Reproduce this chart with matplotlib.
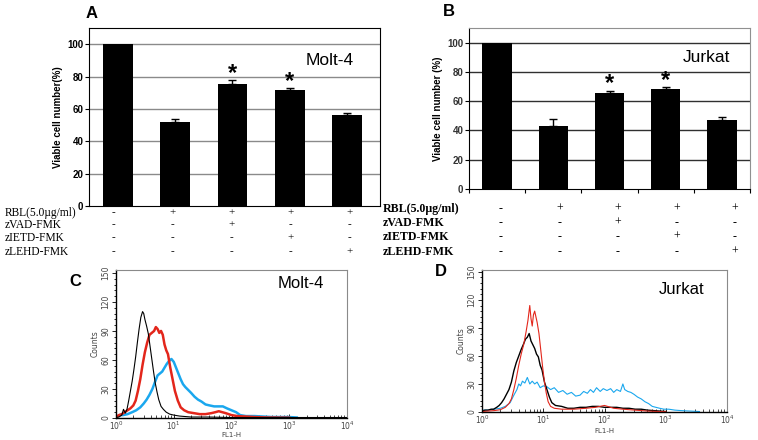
import numpy as np
import matplotlib.pyplot as plt
import matplotlib.transforms as mtransforms
from matplotlib.ticker import MultipleLocator, LogLocator, NullFormatter

# bar data (viable cell number, %)
groups = ['1', '2', '3', '4', '5']
molt_vals = [100, 52, 75.5, 71.5, 56.5]
molt_err = [0, 1.5, 2.5, 1.5, 1.0]
jurkat_vals = [100, 43, 65.5, 68, 47]
jurkat_err = [0, 5, 1.5, 1.5, 2]
star_idx = [2, 3]

# treatment table
row_names = ['RBL(5.0\u00b5g/ml)', 'zVAD-FMK', 'zIETD-FMK', 'zLEHD-FMK']
table_marks = [['-', '+', '+', '+', '+'],
               ['-', '-', '+', '-', '-'],
               ['-', '-', '-', '+', '-'],
               ['-', '-', '-', '-', '+']]

# flow histograms: log10(FL1-H) and counts
c_black_x = [0.00, 0.05, 0.10, 0.13, 0.16, 0.19, 0.22, 0.25, 0.28, 0.31, 0.34, 0.37, 0.40, 0.43, 0.46,
             0.48, 0.50, 0.53, 0.56, 0.59, 0.62, 0.65, 0.68, 0.71, 0.74, 0.78, 0.82, 0.87, 0.93, 1.00,
             1.10, 1.30, 1.60, 2.00, 2.60, 3.20, 4.00]
c_black_y = [0.5, 1, 3, 9, 5, 9, 18, 28, 38, 50, 63, 78, 92, 104, 110,
             108, 102, 95, 87, 74, 61, 48, 36, 27, 19, 12, 9, 6, 4, 3,
             2, 1, 1, 0.5, 0.5, 0.5, 0.5]
c_red_x = [0.00, 0.05, 0.10, 0.15, 0.20, 0.25, 0.30, 0.34, 0.38, 0.42, 0.46, 0.50, 0.54, 0.58, 0.62,
           0.66, 0.69, 0.72, 0.75, 0.78, 0.81, 0.84, 0.87, 0.90, 0.94, 0.98, 1.02, 1.07, 1.12, 1.18,
           1.25, 1.35, 1.45, 1.55, 1.65, 1.72, 1.78, 1.84, 1.90, 2.00, 2.10, 2.25, 2.40, 2.60, 3.00]
c_red_y = [1, 3, 4, 6, 8, 10, 13, 18, 28, 40, 55, 68, 78, 86, 88,
           90, 94, 92, 88, 90, 86, 76, 70, 66, 52, 40, 28, 18, 11, 8,
           6, 5, 4, 4, 5, 6, 7, 6, 5, 3, 2, 1.5, 1, 0.5, 0.3]
c_blue_x = [0.00, 0.06, 0.12, 0.20, 0.28, 0.35, 0.42, 0.48, 0.53, 0.58, 0.63, 0.68, 0.72, 0.76, 0.80,
            0.84, 0.88, 0.92, 0.96, 1.00, 1.04, 1.08, 1.12, 1.16, 1.20, 1.25, 1.30, 1.36, 1.42, 1.48,
            1.55, 1.62, 1.70, 1.78, 1.85, 1.92, 2.00, 2.08, 2.15, 2.25, 2.40, 2.55, 2.70, 2.85, 3.00, 3.13]
c_blue_y = [1, 3, 3, 4, 6, 8, 11, 15, 19, 24, 30, 38, 44, 46, 48,
            52, 56, 59, 61, 58, 52, 46, 40, 35, 32, 29, 26, 22, 19, 17,
            14, 13, 12, 12, 12, 10, 8, 6, 3, 2, 2, 1.5, 1, 1, 1, 0.5]

d_black_x = [0.00, 0.05, 0.10, 0.15, 0.19, 0.24, 0.28, 0.32, 0.36, 0.40, 0.44, 0.48, 0.52, 0.56, 0.60,
             0.64, 0.68, 0.71, 0.74, 0.77, 0.80, 0.83, 0.86, 0.89, 0.92, 0.95, 0.98, 1.02, 1.06, 1.10,
             1.14, 1.20, 1.30, 1.40, 1.50, 1.60, 1.70, 1.80, 1.90, 2.00, 2.10, 2.20, 2.30, 2.40, 2.50,
             2.60, 2.70, 2.80, 2.90, 3.00]
d_black_y = [1, 2, 2, 3, 3, 5, 7, 10, 14, 19, 24, 32, 44, 53, 60,
             67, 73, 78, 80, 84, 76, 72, 68, 62, 59, 50, 45, 32, 24, 16,
             10, 7, 6, 4, 4, 5, 5, 6, 6, 5, 5, 5, 4, 4, 3,
             3, 2, 1.5, 1, 0.5]
d_red_x = [0.00, 0.10, 0.20, 0.30, 0.38, 0.44, 0.48, 0.52, 0.56, 0.60, 0.64, 0.68, 0.72, 0.75, 0.78,
           0.80, 0.82, 0.84, 0.86, 0.88, 0.90, 0.93, 0.96, 0.99, 1.02, 1.05, 1.08, 1.12, 1.18, 1.30,
           1.50, 1.70, 1.85, 2.00, 2.05, 2.15, 2.30, 2.50, 2.70, 2.90, 3.00]
d_red_y = [0.5, 1, 1.5, 2.5, 5, 9, 14, 24, 36, 50, 62, 72, 86, 98, 114,
           100, 92, 104, 108, 102, 96, 84, 66, 48, 32, 20, 11, 6, 4, 3,
           3, 4, 5, 7, 6, 4, 3, 2, 1, 0.5, 0.3]
d_blue_x = [0.000, 0.004, 0.10, 0.20, 0.30, 0.38, 0.46, 0.52, 0.57, 0.60, 0.63, 0.66, 0.70, 0.74, 0.78,
            0.82, 0.86, 0.90, 0.95, 1.00, 1.06, 1.12, 1.18, 1.25, 1.32, 1.39, 1.46, 1.53, 1.60, 1.66,
            1.72, 1.77, 1.82, 1.87, 1.93, 1.98, 2.04, 2.10, 2.15, 2.20, 2.26, 2.30, 2.33, 2.38, 2.43,
            2.48, 2.54, 2.60, 2.66, 2.72, 2.78, 2.84, 2.90, 2.97, 3.05, 3.15, 3.25, 3.40, 3.55]
d_blue_y = [48, 2, 2, 3, 4, 6, 10, 18, 24, 30, 28, 33, 31, 37, 30,
            33, 30, 32, 26, 28, 27, 24, 26, 21, 23, 19, 21, 17, 18, 22,
            20, 24, 21, 26, 22, 25, 23, 25, 21, 24, 22, 30, 24, 22, 21,
            19, 16, 14, 11, 9, 6, 5, 4, 3, 3, 2, 1.5, 1, 0.5]

SANS = 'Liberation Sans'
SERIF = 'Liberation Serif'
BLUE = '#1aa7ee'
RED = '#e3261b'

fig = plt.figure(figsize=(7.58, 4.40), dpi=100)


def bar_panel(rect, vals, err, grid_color, box_color, cell, letter, letter_xy, label, label_xy, xlim):
    ax = fig.add_axes(rect)
    x = np.arange(len(vals))
    ax.bar(x, vals, width=0.52, color='black', zorder=3)
    ax.errorbar(x[1:], vals[1:], yerr=[[0] * (len(vals) - 1), err[1:]], fmt='none',
                ecolor='black', elinewidth=1, capsize=3, capthick=1, zorder=4)
    for i in star_idx:
        ax.text(x[i], vals[i] + err[i] - 3, '*', ha='center', va='bottom', fontsize=17,
                fontweight='bold', family=SANS)
    ax.set_ylim(0, 110)
    ax.set_xlim(*xlim)
    ax.set_yticks([0, 20, 40, 60, 80, 100])
    for yv in [20, 40, 60, 80, 100]:
        ax.axhline(yv, color=grid_color, lw=1, zorder=1)
    for s in ax.spines.values():
        s.set_color(box_color)
        s.set_linewidth(0.8)
    ax.spines['left'].set_color('black')
    ax.spines['bottom'].set_color('black')
    ax.tick_params(axis='y', direction='out', length=3, width=0.8, labelsize=7, pad=1)
    for t in ax.get_yticklabels():
        t.set_fontweight('bold')
        t.set_family(SANS)
    ax.set_ylabel(label, fontsize=7, fontweight='bold', family=SANS, labelpad=3)
    ax.text(label_xy[0], label_xy[1], cell, transform=ax.transAxes, fontsize=12.5, family=SANS,
            ha='left', va='center')
    fig.text(letter_xy[0], letter_xy[1], letter, fontsize=12, fontweight='bold', family=SANS,
             ha='center', va='center')
    return ax


# Panel A
axA = bar_panel([89 / 758, 1 - 206 / 440, 291 / 758, 178 / 440], molt_vals, molt_err,
                '#8a8a8a', 'black', 'Molt-4', 'A', (92 / 758, 1 - 14 / 440), 'Viable cell number(%)',
                (0.745, 0.82), (-0.5, 4.57))
axA.set_xticks([])

# Panel B
axB = bar_panel([469 / 758, 1 - 189 / 440, 281 / 758, 161 / 440], jurkat_vals, jurkat_err,
                '#303030', '#909090', 'Jurkat', 'B', (449 / 758, 1 - 11 / 440), 'Viable cell number (%)',
                (0.76, 0.815), (-0.5, 4.45))
axB.set_xticks(np.arange(-0.5, 4.6, 1.0))
axB.tick_params(axis='x', direction='out', length=3, width=0.8, labelbottom=False)
for t in axB.get_yticklabels():
    t.set_color('#333333')

# treatment tables under the bar panels
tA = mtransforms.blended_transform_factory(axA.transData, fig.transFigure)
rowsA = [213, 225, 238, 252]
for r, name in enumerate(row_names):
    fig.text(5 / 758, 1 - rowsA[r] / 440, name, fontsize=8.3, family=SERIF, ha='left', va='center')
    for i, m in enumerate(table_marks[r]):
        axA.text(i * 1.03 - 0.08, 1 - rowsA[r] / 440, m, transform=tA, fontsize=8, family=SERIF,
                 ha='center', va='center', clip_on=False)

tB = mtransforms.blended_transform_factory(axB.transData, fig.transFigure)
rowsB = [209, 223, 237, 252]
for r, name in enumerate(row_names):
    fig.text(383 / 758, 1 - rowsB[r] / 440, name, fontsize=8.6, family=SERIF, fontweight='bold',
             ha='left', va='center')
    for i, m in enumerate(table_marks[r]):
        axB.text(i * 1.04 + 0.07, 1 - rowsB[r] / 440, m, transform=tB, fontsize=8.6, family=SERIF,
                 ha='center', va='center', clip_on=False)


def hist_panel(rect, curves, letter, letter_xy, cell, cell_xy, ytop, xlabel_y):
    ax = fig.add_axes(rect)
    for xs, ys, col, lw in curves:
        ax.plot(10 ** np.array(xs), ys, color=col, lw=lw)
    ax.set_xscale('log')
    ax.set_xlim(1, 1e4)
    ax.set_ylim(0, ytop)
    ax.set_yticks([0, 30, 60, 90, 120, 150])
    ax.yaxis.set_minor_locator(MultipleLocator(6))
    ax.xaxis.set_major_locator(LogLocator(base=10, numticks=10))
    ax.xaxis.set_minor_locator(LogLocator(base=10, subs=np.arange(2, 10), numticks=20))
    ax.xaxis.set_minor_formatter(NullFormatter())
    ax.tick_params(axis='y', which='both', direction='out', labelsize=5.5, pad=1, width=0.6)
    ax.tick_params(axis='y', which='major', length=3)
    ax.tick_params(axis='y', which='minor', length=1.5)
    ax.tick_params(axis='x', which='major', direction='in', length=3, labelsize=5.5, pad=1.5, width=0.6)
    ax.tick_params(axis='x', which='minor', direction='in', length=2, width=0.5)
    for t in ax.get_yticklabels():
        t.set_rotation(90)
        t.set_va('center')
        t.set_color('#444444')
    for t in ax.get_xticklabels():
        t.set_color('#444444')
    for s in ['top', 'right']:
        ax.spines[s].set_color('#8a8a8a')
        ax.spines[s].set_linewidth(0.8)
    ax.spines['left'].set_linewidth(1.0)
    ax.spines['bottom'].set_linewidth(1.0)
    ax.set_ylabel('Counts', fontsize=5.5, color='#444444', labelpad=1)
    ax.set_xlabel('FL1-H', fontsize=5, color='#444444')
    ax.xaxis.set_label_coords(0.5, xlabel_y)
    ax.text(cell_xy[0], cell_xy[1], cell, transform=ax.transAxes, fontsize=12, family=SANS,
            ha='left', va='center')
    fig.text(letter_xy[0], letter_xy[1], letter, fontsize=12, fontweight='bold', family=SANS,
             ha='center', va='center')
    return ax


# Panel C
hist_panel([116 / 758, 1 - 418 / 440, 231 / 758, 148 / 440],
           [(c_blue_x, c_blue_y, BLUE, 1.8), (c_red_x, c_red_y, RED, 1.8),
            (c_black_x, c_black_y, 'black', 0.8)],
           'C', (75 / 758, 1 - 281 / 440), 'Molt-4', (0.70, 0.91), 153, -0.095)

# Panel D
hist_panel([482 / 758, 1 - 412 / 440, 245 / 758, 142 / 440],
           [(d_blue_x, d_blue_y, BLUE, 0.8), (d_black_x, d_black_y, 'black', 1.0),
            (d_red_x, d_red_y, RED, 0.8)],
           'D', (441 / 758, 1 - 272 / 440), 'Jurkat', (0.72, 0.86), 152, -0.11)

fig.savefig('out.png', dpi=100)
